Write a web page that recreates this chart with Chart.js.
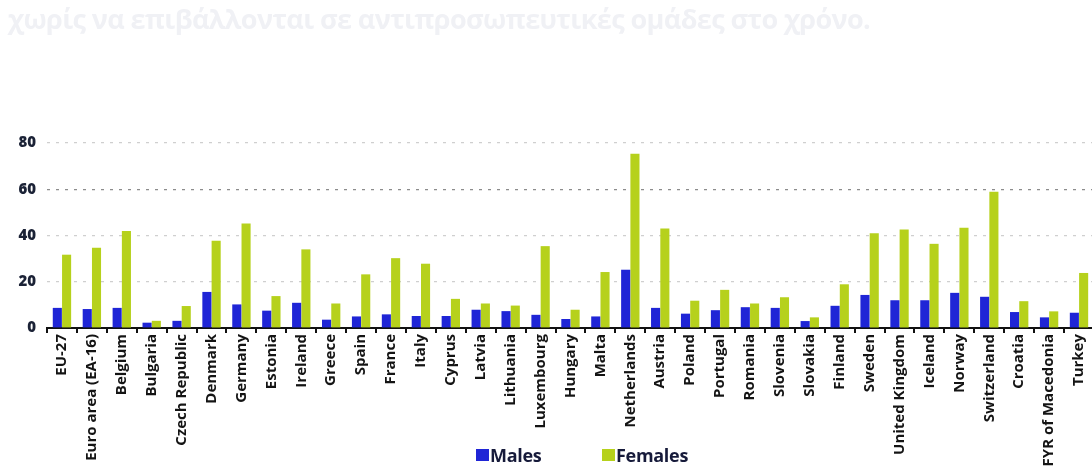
<!DOCTYPE html>
<html>
<head>
<meta charset="utf-8">
<script src="https://cdn.jsdelivr.net/npm/chart.js@4.4.1/dist/chart.umd.min.js"></script>
<style>
  html, body { margin: 0; padding: 0; background: #ffffff; overflow: hidden; }
  #wrap { position: relative; width: 1098px; height: 468px; }
  #topnote { position: absolute; left: 8px; top: 0px; font: 700 27px 'Open Sans', sans-serif; color: #f0f1f5; white-space: nowrap; letter-spacing: -0.6px; }
  .leg { position: absolute; top: 443px; font: 700 18px 'Open Sans', sans-serif; color: #161a3a; display: flex; align-items: center; letter-spacing: -0.3px; }
  .leg span.box { display: inline-block; width: 13px; height: 12px; margin-right: 1px; }
</style>
</head>
<body>
<div id="wrap">
  <div id="topnote">χωρίς να επιβάλλονται σε αντιπροσωπευτικές ομάδες στο χρόνο.</div>
  <canvas id="c"></canvas>
  <div class="leg" id="legM" style="left:476px;"><span class="box" id="boxM"></span><span id="txtM"></span></div>
  <div class="leg" id="legF" style="left:602px;"><span class="box" id="boxF"></span><span id="txtF"></span></div>
</div>
<script>
const categories = ["EU-27","Euro area (EA-16)","Belgium","Bulgaria","Czech Republic","Denmark","Germany","Estonia","Ireland","Greece","Spain","France","Italy","Cyprus","Latvia","Lithuania","Luxembourg","Hungary","Malta","Netherlands","Austria","Poland","Portugal","Romania","Slovenia","Slovakia","Finland","Sweden","United Kingdom","Iceland","Norway","Switzerland","Croatia","FYR of Macedonia","Turkey"];
const males   = [8.7, 8.2, 8.7, 2.3, 3.1, 15.6, 10.2, 7.5, 10.9, 3.6, 5.0, 5.9, 5.2, 5.2, 7.9, 7.3, 5.7, 3.9, 5.0, 25.2, 8.7, 6.2, 7.7, 9.0, 8.7, 3.0, 9.6, 14.3, 12.0, 12.0, 15.2, 13.5, 6.9, 4.6, 6.6];
const females = [31.7, 34.7, 41.9, 3.1, 9.5, 37.7, 45.2, 13.8, 34.0, 10.6, 23.2, 30.2, 27.8, 12.6, 10.6, 9.7, 35.4, 7.9, 24.2, 75.4, 43.0, 11.8, 16.5, 10.6, 13.3, 4.6, 18.9, 41.0, 42.6, 36.4, 43.4, 58.9, 11.6, 7.2, 23.8];
const yTicks = [0, 20, 40, 60, 80];
const seriesNames = ["Males", "Females"];
const seriesColors = ["#1f25d6", "#b6d11c"];

document.getElementById('txtM').textContent = seriesNames[0];
document.getElementById('txtF').textContent = seriesNames[1];
document.getElementById('boxM').style.background = seriesColors[0];
document.getElementById('boxF').style.background = seriesColors[1];

new Chart(document.getElementById('c'), {
  type: 'bar',
  data: {
    labels: categories,
    datasets: [
      { label: seriesNames[0], data: males, backgroundColor: seriesColors[0], categoryPercentage: 0.62, barPercentage: 0.98 },
      { label: seriesNames[1], data: females, backgroundColor: seriesColors[1], categoryPercentage: 0.62, barPercentage: 0.98 }
    ]
  },
  options: {
    responsive: true,
    maintainAspectRatio: false,
    animation: false,
    layout: { padding: { top: 143, right: 0, bottom: 0, left: 0 } },
    plugins: { legend: { display: false }, tooltip: { enabled: false } },
    scales: {
      x: {
        offset: true,
        grid: { display: true, drawOnChartArea: false, drawTicks: true, tickLength: 5, color: '#111', lineWidth: 2, offset: true },
        border: { display: true, color: '#111', width: 2 },
        ticks: {
          autoSkip: false, minRotation: 90, maxRotation: 90, padding: 1,
          color: '#141414', font: { family: 'Open Sans', weight: '700', size: 15 }
        },
        afterFit(scale) { scale.height = 140; }
      },
      y: {
        min: 0, max: 80,
        afterBuildTicks(scale) { scale.ticks = yTicks.map(v => ({ value: v })); },
        grid: {
          drawTicks: false,
          color: ctx => ctx.tick && ctx.tick.value === 60 ? '#8c8c8c' : (ctx.tick && ctx.tick.value === 0 ? 'rgba(0,0,0,0)' : '#cfcfcf'),
          lineWidth: 1.2
        },
        border: { display: false, dash: [3, 6] },
        ticks: {
          padding: 11, color: '#1b2236',
          font: { family: 'Open Sans', weight: '800', size: 15 }
        },
        afterFit(scale) { scale.width = 47; }
      }
    }
  }
});
</script>
</body>
</html>
